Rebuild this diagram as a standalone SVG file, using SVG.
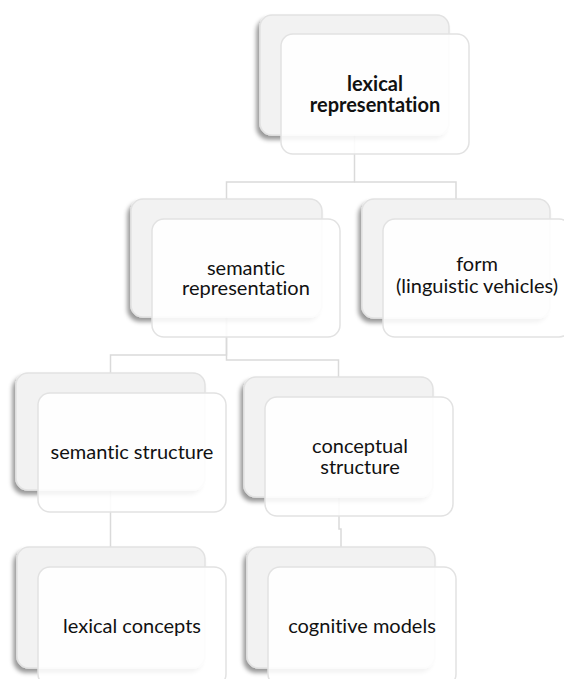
<svg xmlns="http://www.w3.org/2000/svg" width="564" height="679" viewBox="0 0 564 679">
  <defs>
    <filter id="shadow" x="-20%" y="-20%" width="140%" height="150%">
      <feDropShadow dx="-3" dy="4" stdDeviation="2" flood-color="#000" flood-opacity="0.4"/>
    </filter>
    <style>
      .back { fill: #f2f2f2; stroke: #e2e2e2; stroke-width: 1.5; filter: url(#shadow); }
      .front { fill: #ffffff; fill-opacity: 0.88; stroke: #e2e2e2; stroke-width: 1.5; }
      .conn { fill: none; stroke: #dadada; stroke-width: 1.5; }
      .label { font-family: Lato, "Open Sans", sans-serif; font-size: 20px; fill: #111; text-anchor: middle; font-variant-ligatures: none; }
      .bold { font-weight: bold; }
    </style>
  </defs>
  <rect width="564" height="679" fill="#ffffff"/>

  <!-- tree connectors (run from back-card centres) -->
  <g id="connectors">
    <path class="conn" d="M354.5,135 V182 H226.5 V199"/>
    <path class="conn" d="M354.5,182 H456 V199"/>
    <path class="conn" d="M226.5,317 V355 H110.5 V373"/>
    <path class="conn" d="M226.5,317 V360 H338.5 V377"/>
    <path class="conn" d="M110.5,490 V547"/>
    <path class="conn" d="M339,497 V529 H341 V547"/>
  </g>

  <g id="lexical-representation">
    <rect class="back" x="260" y="15" width="189" height="120" rx="12"/>
    <rect class="front" x="281" y="34" width="188" height="120" rx="12"/>
    <text class="label bold" x="375" y="91">lexical</text>
    <text class="label bold" x="375" y="112">representation</text>
  </g>

  <g id="semantic-representation">
    <rect class="back" x="131" y="199" width="191" height="118" rx="12"/>
    <rect class="front" x="152" y="219" width="188" height="118" rx="12"/>
    <text class="label" x="246" y="275">semantic</text>
    <text class="label" x="246" y="295">representation</text>
  </g>

  <g id="form">
    <rect class="back" x="362" y="199" width="188" height="119" rx="12"/>
    <rect class="front" x="383" y="219" width="188" height="118" rx="12"/>
    <text class="label" x="477" y="271">form</text>
    <text class="label" x="477" y="293">(linguistic vehicles)</text>
  </g>

  <g id="semantic-structure">
    <rect class="back" x="16" y="373" width="189" height="117" rx="12"/>
    <rect class="front" x="38" y="393" width="188" height="119" rx="12"/>
    <text class="label" x="132" y="459">semantic structure</text>
  </g>

  <g id="conceptual-structure">
    <rect class="back" x="244" y="377" width="189" height="120" rx="12"/>
    <rect class="front" x="265" y="397" width="188" height="119" rx="12"/>
    <text class="label" x="360" y="453">conceptual</text>
    <text class="label" x="360" y="474">structure</text>
  </g>

  <g id="lexical-concepts">
    <rect class="back" x="17" y="547" width="188" height="121" rx="12"/>
    <rect class="front" x="38" y="567" width="188" height="119" rx="12"/>
    <text class="label" x="132" y="633">lexical concepts</text>
  </g>

  <g id="cognitive-models">
    <rect class="back" x="247" y="547" width="188" height="121" rx="12"/>
    <rect class="front" x="268" y="567" width="188" height="119" rx="12"/>
    <text class="label" x="362" y="633">cognitive models</text>
  </g>
</svg>
